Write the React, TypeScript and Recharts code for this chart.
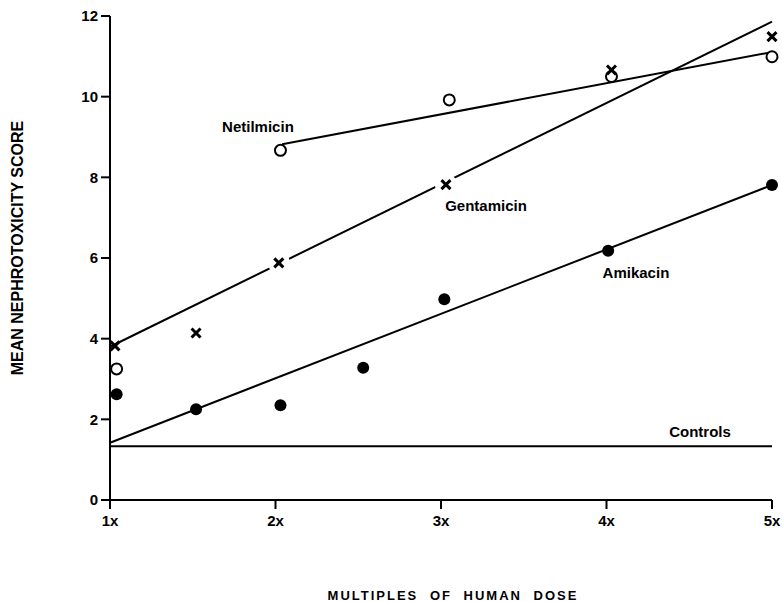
import React from 'react';
import { ComposedChart, XAxis, YAxis, Scatter, ReferenceLine, ReferenceDot, Label } from 'recharts';

// dose multiples on the x axis, mean score on the y axis
const doseTicks = [1, 2, 3, 4, 5];
const scoreTicks = [0, 2, 4, 6, 8, 10, 12];

const netilmicinPoints = [
  { x: 1.04, y: 3.25 },
  { x: 2.03, y: 8.67 },
  { x: 3.05, y: 9.92 },
  { x: 4.03, y: 10.5 },
  { x: 5.0, y: 10.99 },
];
const gentamicinPoints = [
  { x: 1.03, y: 3.82 },
  { x: 1.52, y: 4.14 },
  { x: 2.02, y: 5.88 },
  { x: 3.03, y: 7.82 },
  { x: 4.03, y: 10.66 },
  { x: 5.0, y: 11.49 },
];
const amikacinPoints = [
  { x: 1.04, y: 2.62 },
  { x: 1.52, y: 2.25 },
  { x: 2.03, y: 2.35 },
  { x: 2.53, y: 3.28 },
  { x: 3.02, y: 4.98 },
  { x: 4.01, y: 6.18 },
  { x: 5.0, y: 7.81 },
];

// fitted lines
const netilmicinFit = [{ x: 2.04, y: 8.82 }, { x: 4.98, y: 11.09 }];
const gentamicinFit = [{ x: 1.0, y: 3.8 }, { x: 5.0, y: 11.86 }];
const amikacinFit = [{ x: 1.0, y: 1.42 }, { x: 5.0, y: 7.81 }];
const controlsLevel = 1.33;

const FONT = '"Liberation Sans", Arial, Helvetica, sans-serif';
const INK = '#000';

const noDot = () => <g />;

const OpenCircle = (p: any) => (
  <circle cx={p.cx} cy={p.cy} r={5.5} fill="#fff" stroke={INK} strokeWidth={2} />
);

const FilledCircle = (p: any) => <circle cx={p.cx} cy={p.cy} r={6} fill={INK} />;

// the printed line breaks around the middle crosses
const haloIdx = [2, 3];
const Cross = (p: any) => {
  const { cx, cy, index } = p;
  const s = 4.5;
  return (
    <g>
      {haloIdx.includes(index) && <circle cx={cx} cy={cy} r={11} fill="#fff" />}
      <path
        d={`M${cx - s},${cy - s}L${cx + s},${cy + s}M${cx + s},${cy - s}L${cx - s},${cy + s}`}
        stroke={INK}
        strokeWidth={3}
        fill="none"
      />
    </g>
  );
};

const seriesLabel = (value: string) => ({
  value,
  position: 'center' as const,
  fill: INK,
  fontSize: 15,
  fontWeight: 700,
  fontFamily: FONT,
});

const tickStyle = { fill: INK, fontSize: 15, fontWeight: 700, fontFamily: FONT };
const lineStyle = { stroke: INK, strokeWidth: 2 };

export default function App() {
  return (
    <div style={{ position: 'absolute', left: 0, top: 0, background: '#fff' }}>
      <ComposedChart width={782} height={602} margin={{ top: 16, right: 10, bottom: 0, left: 0 }}>
        <XAxis
          type="number"
          dataKey="x"
          domain={[1, 5]}
          ticks={doseTicks}
          tickFormatter={(v) => `${v}x`}
          tick={tickStyle}
          tickLine={lineStyle}
          axisLine={lineStyle}
          tickSize={9}
          tickMargin={6}
          height={102}
        >
          <Label
            content={() => (
              <text
                x={453}
                y={600}
                textAnchor="middle"
                fontFamily={FONT}
                fontWeight={700}
                fontSize={13}
                letterSpacing={2}
                wordSpacing={6}
                fill={INK}
              >
                MULTIPLES OF HUMAN DOSE
              </text>
            )}
          />
        </XAxis>
        <YAxis
          type="number"
          dataKey="y"
          domain={[0, 12]}
          ticks={scoreTicks}
          tick={tickStyle}
          tickLine={lineStyle}
          axisLine={lineStyle}
          tickSize={9}
          tickMargin={3}
          width={110}
        >
          <Label
            content={() => (
              <text
                x={17}
                y={248}
                transform="rotate(-90 17 248)"
                textAnchor="middle"
                dominantBaseline="central"
                fontFamily={FONT}
                fontWeight={700}
                fontSize={16}
                fill={INK}
              >
                MEAN NEPHROTOXICITY SCORE
              </text>
            )}
          />
        </YAxis>

        <ReferenceLine y={controlsLevel} stroke={INK} strokeWidth={2} />

        <Scatter data={netilmicinFit} line={lineStyle} shape={noDot} isAnimationActive={false} />
        <Scatter data={gentamicinFit} line={lineStyle} shape={noDot} isAnimationActive={false} />
        <Scatter data={amikacinFit} line={lineStyle} shape={noDot} isAnimationActive={false} />

        <Scatter data={amikacinPoints} shape={FilledCircle} isAnimationActive={false} />
        <Scatter data={netilmicinPoints} shape={OpenCircle} isAnimationActive={false} />
        <Scatter data={gentamicinPoints} shape={Cross} isAnimationActive={false} />

        <ReferenceDot x={1.894} y={9.25} r={0} fill="none" stroke="none" label={seriesLabel('Netilmicin')} />
        <ReferenceDot x={3.272} y={7.29} r={0} fill="none" stroke="none" label={seriesLabel('Gentamicin')} />
        <ReferenceDot x={4.178} y={5.63} r={0} fill="none" stroke="none" label={seriesLabel('Amikacin')} />
        <ReferenceDot x={4.565} y={1.69} r={0} fill="none" stroke="none" label={seriesLabel('Controls')} />
      </ComposedChart>
    </div>
  );
}
